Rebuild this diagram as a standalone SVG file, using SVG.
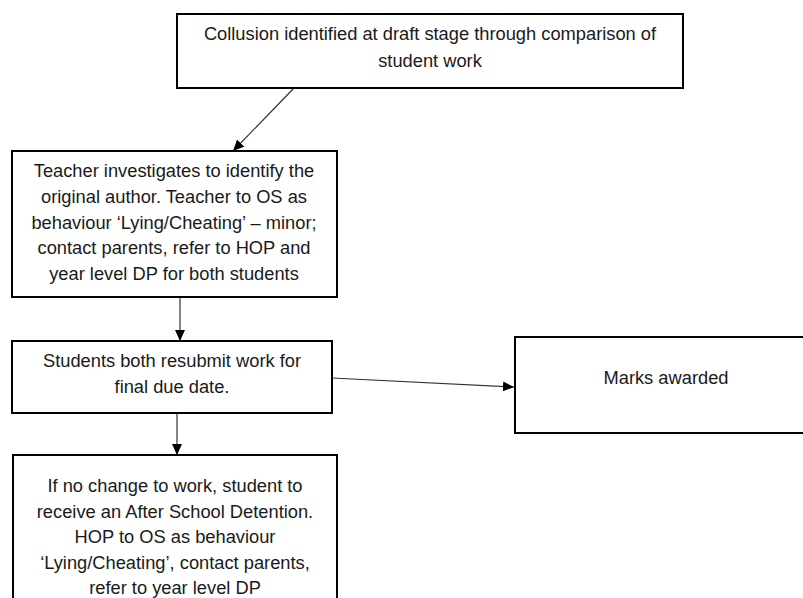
<svg xmlns="http://www.w3.org/2000/svg" width="803" height="598" viewBox="0 0 803 598">
  <style>
    .box { fill: #ffffff; stroke: #000000; stroke-width: 2; }
    .lbl { font-family: "Liberation Sans", Arial, sans-serif; font-size: 18.3px; fill: #1a1a1a; text-anchor: middle; }
    .conn { stroke: #333333; stroke-width: 1.2; fill: none; marker-end: url(#arrow); }
  </style>
  <defs>
    <marker id="arrow" markerUnits="userSpaceOnUse" markerWidth="11" markerHeight="10" refX="11" refY="5" orient="auto">
      <path d="M0,0 L11,5 L0,10 z" fill="#000000"/>
    </marker>
  </defs>
  <rect x="0" y="0" width="803" height="598" fill="#ffffff"/>

  <g id="connectors">
    <line class="conn" x1="294" y1="88" x2="233" y2="151"/>
    <line class="conn" x1="180" y1="297" x2="180" y2="341"/>
    <line class="conn" x1="177" y1="413" x2="177" y2="455"/>
    <line class="conn" x1="332" y1="378" x2="514" y2="387"/>
  </g>

  <g id="node-collusion">
    <rect class="box" x="177" y="14" width="506" height="74"/>
    <text class="lbl" x="430" y="40">Collusion identified at draft stage through comparison of</text>
    <text class="lbl" x="430" y="67">student work</text>
  </g>

  <g id="node-teacher">
    <rect class="box" x="12" y="151" width="325" height="146"/>
    <text class="lbl" x="174" y="177">Teacher investigates to identify the</text>
    <text class="lbl" x="174" y="202.75">original author. Teacher to OS as</text>
    <text class="lbl" x="174" y="228.5">behaviour ‘Lying/Cheating’ – minor;</text>
    <text class="lbl" x="174" y="254.25">contact parents, refer to HOP and</text>
    <text class="lbl" x="174" y="280">year level DP for both students</text>
  </g>

  <g id="node-resubmit">
    <rect class="box" x="12" y="341" width="320" height="72"/>
    <text class="lbl" x="172" y="367">Students both resubmit work for</text>
    <text class="lbl" x="172" y="393">final due date.</text>
  </g>

  <g id="node-marks">
    <rect class="box" x="515" y="337" width="302" height="96"/>
    <text class="lbl" x="666" y="384">Marks awarded</text>
  </g>

  <g id="node-detention">
    <rect class="box" x="13" y="455" width="324" height="160"/>
    <text class="lbl" x="175" y="492">If no change to work, student to</text>
    <text class="lbl" x="175" y="517.5">receive an After School Detention.</text>
    <text class="lbl" x="175" y="543">HOP to OS as behaviour</text>
    <text class="lbl" x="175" y="568.5">‘Lying/Cheating’, contact parents,</text>
    <text class="lbl" x="175" y="594">refer to year level DP</text>
  </g>
</svg>
